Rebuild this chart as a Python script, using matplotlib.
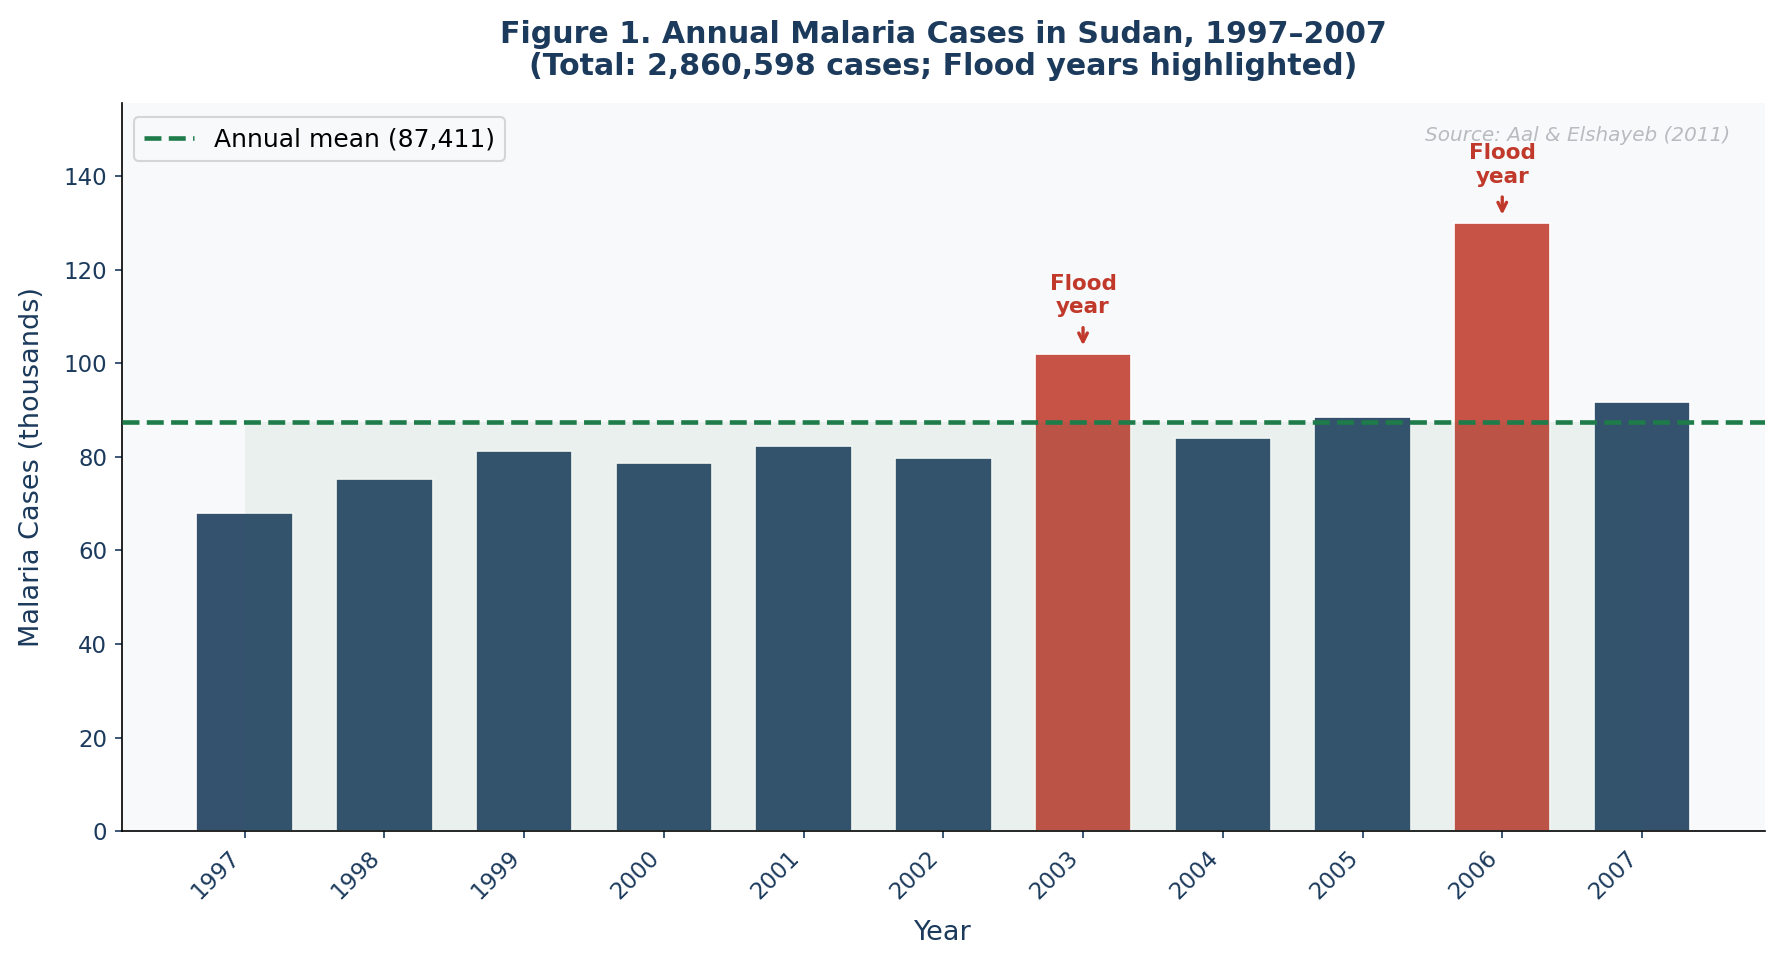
import matplotlib.pyplot as plt
import numpy as np

years = [1997, 1998, 1999, 2000, 2001, 2002, 2003, 2004, 2005, 2006, 2007]
cases = [68050, 75320, 81170, 78770, 82220, 79720, 102020, 84120, 88520, 129941, 91668]
flood_years = [2003, 2006]

navy = '#1b3a5c'
bar_blue = '#34516e'
bar_red = '#c75246'
green = '#1e7b4a'

vals = np.array(cases) / 1000.0
mean_val = np.mean(cases) / 1000.0
x = np.arange(len(years))

fig = plt.figure(figsize=(11.887, 6.44), dpi=150)
ax = fig.add_axes([0.0683, 0.1395, 0.9215, 0.7534])
ax.set_facecolor('#f8f9fa')

colors = [bar_red if y in flood_years else bar_blue for y in years]
ax.bar(x, vals, width=0.69, color=colors, edgecolor='white', linewidth=0.8, zorder=2)

# shaded band under the mean
ax.fill_between(x, 0, mean_val, color=green, alpha=0.065, linewidth=0, zorder=3)
ax.axhline(mean_val, color=green, linestyle='--', linewidth=2.2, zorder=4,
           label='Annual mean ({:,.0f})'.format(mean_val * 1000))

for i, y in enumerate(years):
    if y in flood_years:
        ax.annotate('Flood\nyear', xy=(i, vals[i] + 1.8), xytext=(i, vals[i] + 7.8),
                    ha='center', va='bottom', fontsize=10.3, fontweight='bold',
                    color='#c0392b',
                    arrowprops=dict(arrowstyle='->', color='#c0392b', lw=1.6,
                                    shrinkA=3, shrinkB=0))

ax.text(0.979, 0.956, 'Source: Aal & Elshayeb (2011)', transform=ax.transAxes,
        ha='right', va='center', fontsize=9.6, style='italic', color='#b8bcc0')

ax.set_ylim(0, 155.5)
ax.set_xticks(x)
ax.set_xticklabels([str(y) for y in years], rotation=45, ha='right')
ax.tick_params(colors=navy, labelsize=11)
ax.set_xlabel('Year', fontsize=13, color=navy, labelpad=8)
ax.set_ylabel('Malaria Cases (thousands)', fontsize=13, color=navy, labelpad=9)
ax.spines['top'].set_visible(False)
ax.spines['right'].set_visible(False)

leg = ax.legend(loc='upper left', fontsize=12, frameon=True, facecolor='#f8f9fa',
                edgecolor='#cccccc', bbox_to_anchor=(0, 0.998))

ax.set_title('Figure 1. Annual Malaria Cases in Sudan, 1997\u20132007\n'
             '(Total: 2,860,598 cases; Flood years highlighted)',
             fontsize=14.4, fontweight='bold', color=navy, pad=13.5,
             linespacing=1.15)

fig.savefig('out.png', dpi=150)
